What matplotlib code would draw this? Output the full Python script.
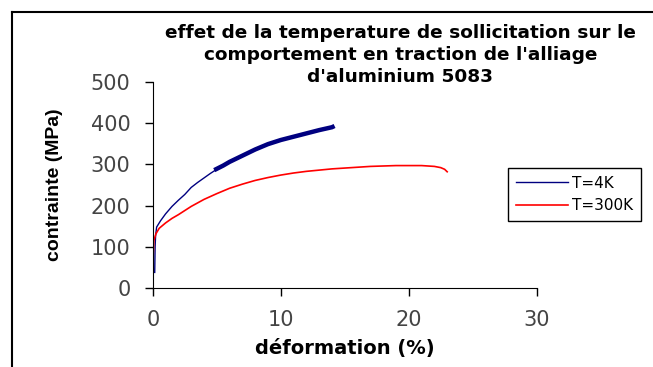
import matplotlib.pyplot as plt
from matplotlib.lines import Line2D

# Tensile curves of aluminium alloy 5083
blue_strain = [0.15, 0.18, 0.22, 0.3, 0.6, 1.0, 1.5, 2.0, 2.5, 3.0, 3.5, 4.0, 4.5, 5.0]
blue_stress = [38, 100, 128, 148, 163, 180, 198, 213, 227, 244, 256, 267, 278, 288]
blue_strain_noisy = [4.8, 5.5, 6.0, 7.0, 8.0, 9.0, 10.0, 11.0, 12.0, 13.0, 14.0, 14.2]
blue_stress_noisy = [286, 297, 306, 321, 336, 349, 359, 367, 375, 383, 390, 393]

red_strain = [0, 0.03, 0.08, 0.25, 0.5, 1.0, 1.5, 2.0, 3.0, 4.0, 5.0, 6.0, 7.0, 8.0, 9.0, 10.0,
              11.0, 12.0, 13.0, 14.0, 15.0, 16.0, 17.0, 18.0, 19.0, 20.0, 21.0, 22.0, 22.5, 22.8, 23.0]
red_stress = [0, 80, 115, 132, 145, 158, 169, 178, 198, 215, 229, 242, 252, 261, 268, 274,
              279, 283, 286, 289, 291, 293, 295, 296, 297, 297, 297, 295, 292, 288, 282]

x_ticks = [0, 10, 20, 30]
y_ticks = [0, 100, 200, 300, 400, 500]

fig = plt.figure(figsize=(6.53, 3.67), dpi=100)
ax = fig.add_axes([0.234, 0.215, 0.588, 0.562])

ax.plot(blue_strain, blue_stress, color='#000080', lw=1.0, label='T=4K')
ax.plot(blue_strain_noisy, blue_stress_noisy, color='#000080', lw=3.2, solid_capstyle='butt')
ax.plot(red_strain, red_stress, color='#ff0000', lw=1.2, label='T=300K')

ax.set_xlim(0, 30)
ax.set_ylim(0, 500)
ax.set_xticks(x_ticks)
ax.set_yticks(y_ticks)
ax.spines['top'].set_visible(False)
ax.spines['right'].set_visible(False)
ax.tick_params(direction='out', length=6, width=1, labelsize=15, labelcolor='#444444', pad=10)
for lab in ax.get_xticklabels() + ax.get_yticklabels():
    lab.set_family('DejaVu Sans')

ax.set_xlabel('déformation (%)', fontsize=14, fontweight='bold', family='DejaVu Sans', labelpad=6)
ax.set_ylabel('contrainte (MPa)', fontsize=14, fontweight='bold', family='Liberation Sans', labelpad=20)

fig.text(0.613, 0.935, "effet de la temperature de sollicitation sur le\n"
         "comportement en traction de l'alliage\nd'aluminium 5083",
         ha='center', va='top', fontsize=13.3, fontweight='bold', family='DejaVu Sans',
         linespacing=1.3)

leg = fig.legend(loc='upper left', bbox_to_anchor=(0.778, 0.542), fontsize=11,
                 fancybox=False, edgecolor='black', framealpha=1, handlelength=3.4,
                 borderpad=0.5, labelspacing=0.5, handletextpad=0.3, borderaxespad=0)
leg.get_frame().set_linewidth(1.0)
for t in leg.get_texts():
    t.set_family('DejaVu Sans')

# outer chart-area border (top and left visible)
fig.add_artist(Line2D([0.019, 1.0], [0.967, 0.967], color='black', lw=1.5, transform=fig.transFigure))
fig.add_artist(Line2D([0.019, 0.019], [0.0, 0.967], color='black', lw=1.5, transform=fig.transFigure))

fig.savefig('out.png', dpi=100)
